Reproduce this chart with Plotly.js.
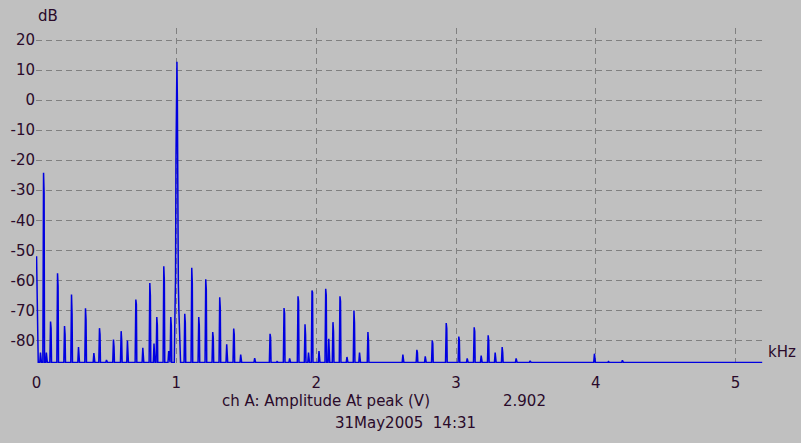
<!DOCTYPE html>
<html>
<head>
<meta charset="utf-8">
<script src="https://cdn.plot.ly/plotly-3.0.1.min.js"></script>
<style>html,body{margin:0;padding:0;background:#c0c0c0;}#chart{width:801px;height:443px;}</style>
</head>
<body>
<div id="chart"></div>
<script>
// ---- data (frequency in kHz, level in dB) ----
const floorLevel = -87.3;
const dcLevel = -52;
const endFreq = 5.19;

const peakFreq = [0.028, 0.05, 0.07, 0.10, 0.15, 0.20, 0.25, 0.30, 0.35, 0.41, 0.45, 0.50, 0.55, 0.605, 0.65, 0.71, 0.76, 0.81, 0.84, 0.86, 0.91, 0.945, 0.96,
  1.06, 1.11, 1.16, 1.21, 1.26, 1.31, 1.36, 1.41, 1.46, 1.56, 1.67, 1.72, 1.77, 1.81, 1.87, 1.92, 1.945, 1.97, 2.02, 2.068, 2.09, 2.12, 2.17, 2.22, 2.27, 2.31, 2.37,
  2.62, 2.72, 2.78, 2.83, 2.93, 3.02, 3.08, 3.13, 3.18, 3.23, 3.28, 3.33, 3.43, 3.53, 3.99, 4.09, 4.19];
const peakLevel = [-84, -24.2, -84, -73.7, -57.6, -75.2, -64.7, -82.2, -69.3, -84.2, -75.9, -86.5, -79.7, -76.9, -80, -66.4, -82.4, -60.9, -81, -72.2, -55.3, -83.5, -72.2,
  -71.1, -55.8, -72.2, -59.6, -77.2, -65.6, -81.3, -76, -84.7, -85.9, -77.8, -87, -69.2, -86, -65.3, -74.6, -84, -63.4, -83.5, -62.8, -79.4, -73.9, -65.3, -85.5, -70, -84, -77.2,
  -84.7, -83.1, -85.3, -80, -74.2, -78.7, -86, -75.6, -85, -78.3, -84, -82.2, -86, -86.8, -84.4, -87, -86.6];
const peakShoulder = [null, -31, null, -76, -62, -78, -71, null, -73, null, -78, null, -82, -80, null, -68, null, -65, null, -75, -60, null, -75,
  -74, -61, -75, -63, -79, -69, null, -78, null, null, -79, null, -71, null, -67, -78, null, -64, null, -65, null, -77, -67, null, -74, null, -80,
  null, -84, null, -81, -76, -80, null, -77, null, -80, null, -84, null, null, -86, null, null];

// cluster around the 1 kHz fundamental
const mainFreq  = [0.985, 0.99, 0.994, 0.997, 1.001, 1.004, 1.007, 1.010, 1.014, 1.018, 1.024, 1.03];
const mainLevel = [-87.3, -70.5, -59, -20, 1, 12.8, 1, -56.7, -61, -70, -80, -87.3];

const xTickVals = [0, 1, 2, 3, 4, 5];
const xTickText = ['0', '1', '2', '3', '4', '5'];
const yTickVals = [20, 10, 0, -10, -20, -30, -40, -50, -60, -70, -80];
const yTickText = ['20', '10', '0', '-10', '-20', '-30', '-40', '-50', '-60', '-70', '-80'];

// ---- build the spectrum line ----
const xs = [0, 0.012], ys = [dcLevel, floorLevel];
let mainDone = false;
function addMain() {
  for (let i = 0; i < mainFreq.length; i++) { xs.push(mainFreq[i]); ys.push(mainLevel[i]); }
  mainDone = true;
}
for (let i = 0; i < peakFreq.length; i++) {
  const f = peakFreq[i];
  if (!mainDone && f > mainFreq[0]) addMain();
  xs.push(f - 0.005); ys.push(floorLevel);
  xs.push(f); ys.push(peakLevel[i]);
  if (peakShoulder[i] !== null) { xs.push(f + 0.004); ys.push(peakShoulder[i]); }
  xs.push(f + 0.007); ys.push(floorLevel);
}
if (!mainDone) addMain();
xs.push(endFreq); ys.push(floorLevel);

const textColor = '#2a0a2a';
const fontFam = 'DejaVu Sans, Arial, sans-serif';

const trace = {
  x: xs, y: ys, type: 'scatter', mode: 'lines',
  line: {color: '#0000e0', width: 1.5},
  hoverinfo: 'skip'
};

const L = 36, R = 765, T = 28, B = 363;
function px(x) { return (x - L) / (R - L); }
function py(y) { return (B - y) / (B - T); }

const layout = {
  width: 801, height: 443,
  paper_bgcolor: '#c0c0c0', plot_bgcolor: '#c0c0c0',
  margin: {l: L, r: 801 - R, t: T, b: 443 - B, pad: 0},
  showlegend: false,
  font: {family: fontFam, size: 15, color: textColor},
  xaxis: {
    range: [-0.004, 5.21], tickmode: 'array', tickvals: xTickVals, ticktext: xTickText,
    showgrid: true, gridcolor: '#808080', gridwidth: 1, griddash: '6px,4px',
    zeroline: false, showline: false, ticks: '', ticklabelstandoff: 9,
    tickfont: {family: fontFam, size: 15, color: textColor}, fixedrange: true
  },
  yaxis: {
    range: [-87.5, 24], tickmode: 'array', tickvals: yTickVals, ticktext: yTickText,
    showgrid: true, gridcolor: '#808080', gridwidth: 1, griddash: '6px,4px',
    zeroline: false, showline: false, ticks: '', ticklabelstandoff: 0,
    tickfont: {family: fontFam, size: 15, color: textColor}, fixedrange: true
  },
  annotations: [
    {text: 'dB', xref: 'paper', yref: 'paper', x: px(36), y: py(15.7), xanchor: 'left', yanchor: 'middle', showarrow: false},
    {text: 'kHz', xref: 'paper', yref: 'paper', x: px(766), y: py(351.7), xanchor: 'left', yanchor: 'middle', showarrow: false},
    {text: 'ch A: Amplitude At peak (V)', xref: 'paper', yref: 'paper', x: px(220), y: py(400.7), xanchor: 'left', yanchor: 'middle', showarrow: false},
    {text: '2.902', xref: 'paper', yref: 'paper', x: px(501), y: py(400.7), xanchor: 'left', yanchor: 'middle', showarrow: false},
    {text: '31May2005 \u00a014:31', xref: 'paper', yref: 'paper', x: px(333), y: py(422.7), xanchor: 'left', yanchor: 'middle', showarrow: false}
  ]
};

Plotly.newPlot('chart', [trace], layout, {staticPlot: true, displayModeBar: false});
</script>
</body>
</html>
